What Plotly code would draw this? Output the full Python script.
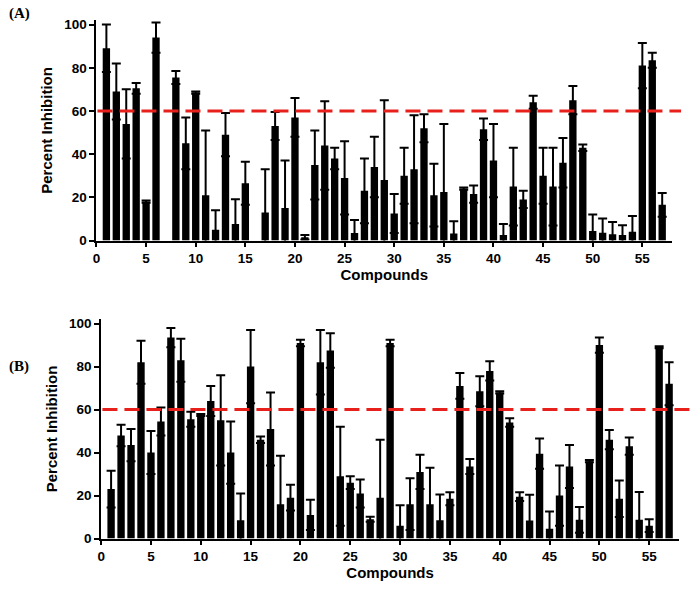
import plotly.graph_objects as go

compounds = list(range(1, 58))

inhib_a = [89, 69, 54, 70.5, 18, 94, None, 75.5, 45, 68.5,
           21, 5, 49, 7.6, 26.5, None, 13, 53, 15, 57,
           1.5, 35, 44, 38, 29, 3.5, 23, 34, 28, 12.5,
           30, 33, 52, 21, 22.5, 3.3, 24, 21.5, 51.5, 37,
           2.6, 25, 19, 64, 30, 25, 36, 65, 43, 4.4,
           3.6, 2.9, 2.6, 4.1, 81, 83.5, 16.5]
err_a = [11, 13, 16, 2.5, 0.5, 7, 0, 3, 12, 0.5,
         30, 9, 10, 11.5, 10, 0, 20, 6.5, 22, 9,
         1, 16, 20.5, 5, 17, 6, 15, 14, 37, 9,
         13, 25, 6.5, 14.5, 31.5, 5.6, 0.5, 4, 5, 17,
         5, 18, 4, 3, 13, 18, 11.5, 6.5, 1.5, 7.6,
         6.6, 5.7, 4.5, 7.3, 10.5, 3.5, 5.5]

inhib_b = [23, 48, 43.5, 82, 40, 54.5, 93.5, 83, 55.5, 57.5,
           64, 55, 40, 8.5, 80, 46, 51, 16, 19, 91,
           11, 82, 87.5, 29, 26, 21, 9, 19, 91, 6,
           16, 31, 16, 8.5, 18.5, 71, 33.5, 68.5, 78, 68,
           54, 19.5, 8.4, 39.5, 4.6, 20, 33.5, 8.7, 36, 90,
           46, 18.5, 43, 8.7, 6, 89, 72]
err_b = [8.5, 5, 7.5, 10, 10, 6.5, 4.5, 10, 3.5, 0.5,
         7, 21, 14.5, 12.5, 17, 1.5, 17, 22.5, 6, 1.5,
         7, 15, 8, 23, 3, 6.5, 1.2, 27, 1.5, 9.5,
         12, 8, 17, 12, 3, 6, 3.5, 7, 4.5, 0.5,
         2, 2, 12, 7, 8, 14, 10, 6, 0.5, 3.5,
         4.5, 8.5, 4, 13, 3, 0.5, 10]

threshold = 60
xticks = list(range(0, 60, 5))
yticks = [0, 20, 40, 60, 80, 100]

W, H = 693, 592
fig = go.Figure()

def bars(y, e, xa, ya):
    return go.Bar(
        x=compounds, y=y, xaxis=xa, yaxis=ya, width=0.74,
        marker=dict(color="black", line=dict(width=0)),
        error_y=dict(type="data", array=e, visible=True, color="black",
                     thickness=2, width=4.5),
        showlegend=False,
    )

fig.add_trace(bars(inhib_a, err_a, "x", "y"))
fig.add_trace(bars(inhib_b, err_b, "x2", "y2"))

tickfont = dict(family="Arial, Liberation Sans", size=13.5, color="black", weight="bold")
titlefont = dict(family="Arial, Liberation Sans", size=15, color="black", weight="bold")

def xaxis(domain, anchor):
    return dict(domain=domain, anchor=anchor, range=[0, 58], tickvals=xticks,
                ticks="outside", ticklen=4, tickwidth=2, tickcolor="black",
                showline=True, linecolor="black", linewidth=2, showgrid=False,
                zeroline=False, tickfont=tickfont,
                title=dict(text="Compounds", font=titlefont, standoff=4))

def yaxis(domain, anchor):
    return dict(domain=domain, anchor=anchor, range=[0, 102], tickvals=yticks,
                ticks="outside", ticklen=5, tickwidth=2, tickcolor="black",
                showline=True, linecolor="black", linewidth=2, showgrid=False,
                zeroline=False, tickfont=tickfont,
                title=dict(text="Percent Inhibition", font=titlefont, standoff=8))

fig.update_layout(
    width=W, height=H, margin=dict(l=0, r=0, t=0, b=0),
    paper_bgcolor="white", plot_bgcolor="white",
    xaxis=xaxis([93 / W, 672 / W], "y"),
    yaxis=yaxis([1 - 242 / H, 1 - 17.6 / H], "x"),
    xaxis2=xaxis([97.7 / W, 679 / W], "y2"),
    yaxis2=yaxis([1 - 545.7 / H, 1 - 322.3 / H], "x2"),
    bargap=0.2,
)

dash_line = dict(color="#e8201c", width=3, dash="15px,7px")
fig.add_shape(type="line", xref="paper", yref="y", x0=94 / W, x1=681 / W,
              y0=threshold, y1=threshold, line=dash_line, layer="above")
fig.add_shape(type="line", xref="paper", yref="y2", x0=99 / W, x1=690 / W,
              y0=threshold, y1=threshold, line=dash_line, layer="above")

panel_font = dict(family="Times New Roman, Liberation Serif", size=15, color="black", weight="bold")
fig.add_annotation(text="(A)", xref="paper", yref="paper", x=3 / W, y=1 - 11 / H,
                   xanchor="left", yanchor="middle", showarrow=False, font=panel_font)
fig.add_annotation(text="(B)", xref="paper", yref="paper", x=3 / W, y=1 - 370 / H,
                   xanchor="left", yanchor="middle", showarrow=False, font=panel_font)

fig.write_html("out.html", config={"displayModeBar": False},
               post_script="document.body.style.margin='0px';")
